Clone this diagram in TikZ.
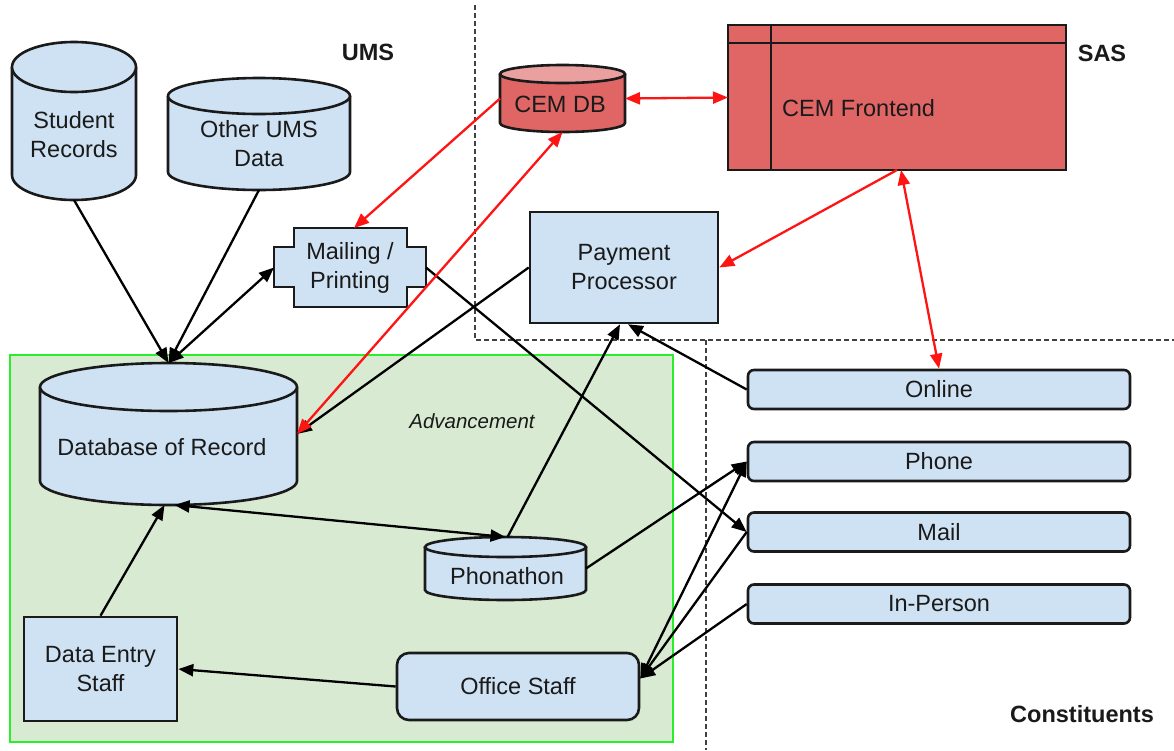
\documentclass[tikz,border=0pt]{standalone}
\usepackage{fontspec}
\setmainfont{Liberation Sans}
\usetikzlibrary{arrows.meta}
\definecolor{boxblue}{HTML}{CFE2F3}
\definecolor{cemred}{HTML}{E06666}
\definecolor{cemtop}{HTML}{EBA0A0}
\definecolor{advgreen}{HTML}{D9EAD3}
\definecolor{advline}{HTML}{2BEE2B}
\definecolor{linkred}{HTML}{FF1414}
\definecolor{ink}{HTML}{1A1A1A}
\tikzset{
  txt/.style={font=\fontsize{23.5}{29}\selectfont, text=ink, align=center, inner sep=0pt},
  outline/.style={draw=ink, line width=2.6pt},
  bluebox/.style={outline, fill=boxblue, txt},
  chanbox/.style={bluebox, rounded corners=6pt, minimum width=382pt, minimum height=39pt},
  area/.style={inner sep=0pt, outer sep=0pt},
  link/.style={draw=black, line width=2.3pt, >={Triangle[length=15pt,width=12pt]}, ->},
  bilink/.style={link, <->},
  redlink/.style={link, draw=linkred},
  redbilink/.style={redlink, <->},
  region/.style={draw=black!75, line width=1.3pt, dash pattern=on 5pt off 3pt},
  heading/.style={font=\bfseries\fontsize{23.5}{28}\selectfont, text=ink, inner sep=0pt},
}
% cylinder: #1 L, #2 T, #3 R, #4 B, #5 ry, #6 body fill, #7 top fill
\newcommand{\drawcyl}[7]{%
  \pgfmathsetmacro{\cylrx}{(#3-#1)/2}%
  \pgfmathsetmacro{\cylcx}{(#1+#3)/2}%
  \fill[#6] (#1,#2+#5) -- (#1,#4-#5) arc[start angle=180,end angle=360,x radius=\cylrx pt,y radius=#5 pt] -- (#3,#2+#5) -- cycle;
  \draw[outline] (#1,#2+#5) -- (#1,#4-#5) arc[start angle=180,end angle=360,x radius=\cylrx pt,y radius=#5 pt] -- (#3,#2+#5);
  \draw[outline, fill=#7] (\cylcx,#2+#5) ellipse [x radius=\cylrx pt, y radius=#5 pt];
}
\begin{document}
\begin{tikzpicture}[x=1pt,y=-1pt]
\useasboundingbox (0,0) rectangle (1174,750);
\fill[white] (0,0) rectangle (1174,750);

% Advancement region
\draw[draw=advline, line width=2.2pt, fill=advgreen] (10,355) rectangle (673,742);
% region separators
\draw[region] (475,5) -- (475,340) -- (1174,340);
\draw[region] (706,340) -- (706,750);

% cylinders
\drawcyl{12}{42}{136}{200}{25}{boxblue}{boxblue}
\node[area, minimum width=124pt, minimum height=158pt] (sr) at (74,121) {};
\node[txt] (srlabel) at (74,135) {Student\\Records};

\drawcyl{168}{78}{350}{190}{18}{boxblue}{boxblue}
\node[area, minimum width=182pt, minimum height=112pt] (ou) at (259,134) {};
\node[txt] (oulabel) at (259,144) {Other UMS\\Data};

\drawcyl{40}{363}{297}{505}{24}{boxblue}{boxblue}
\node[area, minimum width=257pt, minimum height=142pt] (db) at (168.5,434) {};
\node[txt] (dblabel) at (162,447) {Database of Record};

\drawcyl{500}{65}{625}{132}{9}{cemred}{cemtop}
\node[area, minimum width=125pt, minimum height=67pt] (cemdb) at (562.5,98.5) {};
\node[txt] (cemdblabel) at (560,104) {CEM DB};

\drawcyl{425}{537}{586}{600}{10}{boxblue}{boxblue}
\node[area, minimum width=161pt, minimum height=63pt] (ph) at (505.5,568.5) {};
\node[txt] (phlabel) at (507,576) {Phonathon};

% Mailing / Printing
\draw[outline, fill=boxblue] (294,228) -- (407,228) -- (407,247) -- (426,247) -- (426,287) -- (407,287) -- (407,307) -- (294,307) -- (294,287) -- (274,287) -- (274,247) -- (294,247) -- cycle;
\node[area, txt, minimum width=152pt, minimum height=79pt] (mp) at (350,267.5) {Mailing /\\Printing};

% CEM Frontend
\node[outline, fill=cemred, area, minimum width=338pt, minimum height=145pt] (cf) at (897,97.5) {};
\draw[outline] (728,43) -- (1066,43);
\draw[outline] (771,25) -- (771,170);
\node[txt, anchor=west] (cflabel) at (782,108) {CEM Frontend};

% boxes
\node[bluebox, minimum width=188pt, minimum height=111pt] (pp) at (624,267.5) {Payment\\Processor};
\node[bluebox, minimum width=153pt, minimum height=104pt] (de) at (100.5,669) {Data Entry\\Staff};
\node[bluebox, rounded corners=12pt, minimum width=242pt, minimum height=67pt] (os) at (518,686.5) {Office Staff};

\node[chanbox] (online) at (939,389.5) {Online};
\node[chanbox] (phone) at (939,461.5) {Phone};
\node[chanbox] (mail) at (939,532) {Mail};
\node[chanbox] (inperson) at (939,604) {In-Person};

% labels
\node[heading] (ums) at (368,52) {UMS};
\node[heading] (sas) at (1102,53) {SAS};
\node[heading] (constituents) at (1082,714) {Constituents};
\node[txt, font=\itshape\fontsize{20.5}{24}\selectfont] (adv) at (472,421) {Advancement};

% connectors
\draw[link] (sr.south) -- (db.north);
\draw[link] (ou.south) -- (db.north);
\draw[bilink] (db.north) -- (mp.west);
\draw[link] (mp.east) -- (mail.west);
\draw[link] (pp.west) -- (db.east);
\draw[bilink] ([xshift=6pt]db.south) -- (ph.north);
\draw[link] ([xshift=2pt]ph.north) -- ([xshift=-4pt]pp.south);
\draw[link] (online.west) -- ([xshift=4pt]pp.south);
\draw[link] (ph.east) -- (phone.west);
\draw[bilink] ([yshift=8pt]os.east) -- (phone.west);
\draw[link] (mail.west) -- ([yshift=8pt]os.east);
\draw[link] (inperson.west) -- ([yshift=8pt]os.east);
\draw[link] (os.west) -- (de.east);
\draw[link] (de.north) -- ([xshift=-4pt]db.south);

\draw[redlink] (cemdb.west) -- ([xshift=4pt]mp.north);
\draw[redbilink] (db.east) -- (cemdb.south);
\draw[redbilink] (cemdb.east) -- (cf.west);
\draw[redlink] (cf.south) -- (pp.east);
\draw[redbilink] ([xshift=4pt]cf.south) -- (online.north);
\end{tikzpicture}
\end{document}
